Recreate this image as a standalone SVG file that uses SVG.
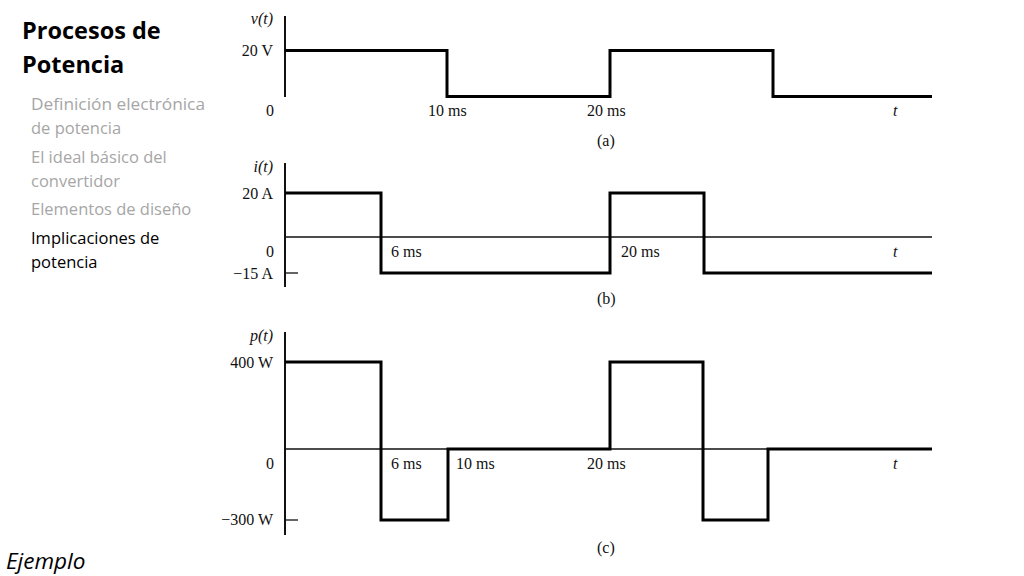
<svg xmlns="http://www.w3.org/2000/svg" width="1024" height="576" viewBox="0 0 1024 576">
<style>
.title{font-family:"Open Sans","Noto Sans",sans-serif;font-weight:bold;font-size:23.5px;fill:#000}
.item{font-family:"Open Sans","Noto Sans",sans-serif;font-size:16.5px;fill:#a6a6a6}
.cur{fill:#000}
.lbl{font-family:"Liberation Serif","Times New Roman",serif;font-size:16px;fill:#111}
.it{font-style:italic}
.ax{stroke:#111;stroke-width:2;fill:none}
.zero{stroke:#111;stroke-width:1.3;fill:none}
.wave{stroke:#000;stroke-width:3;fill:none;stroke-linejoin:miter}
.r{text-anchor:end}
</style>
<rect width="1024" height="576" fill="#fff"/>
<g id="sidebar">
<text class="title" x="22" y="39">Procesos de</text>
<text class="title" x="22" y="73">Potencia</text>
<text class="item" x="31" y="110" textLength="174" lengthAdjust="spacingAndGlyphs">Definición electrónica</text>
<text class="item" x="31" y="134">de potencia</text>
<text class="item" x="31" y="163">El ideal básico del</text>
<text class="item" x="31" y="187">convertidor</text>
<text class="item" x="31" y="215">Elementos de diseño</text>
<text class="item cur" x="31" y="244">Implicaciones de</text>
<text class="item cur" x="31" y="268">potencia</text>
</g>
<g id="plot-a">
<path class="ax" d="M285 16V97"/>
<path class="wave" d="M285 50.5H447V96.5H610V50.5H773V96.5H932"/>
<text class="lbl r it" x="273" y="24">v(t)</text>
<text class="lbl r" x="273" y="56">20 V</text>
<text class="lbl r" x="274" y="116">0</text>
<text class="lbl" x="428" y="116">10 ms</text>
<text class="lbl" x="587" y="116">20 ms</text>
<text class="lbl it" x="893" y="116">t</text>
<text class="lbl" x="597" y="146">(a)</text>
</g>
<g id="plot-b">
<path class="ax" d="M285 163V287"/>
<path class="zero" d="M285 237H932"/>
<path class="zero" d="M285 273H298"/>
<path class="wave" d="M285 193H381V273H610V193H704V273H932"/>
<text class="lbl r it" x="273" y="172">i(t)</text>
<text class="lbl r" x="273" y="199">20 A</text>
<text class="lbl r" x="274" y="257">0</text>
<text class="lbl" x="391" y="257">6 ms</text>
<text class="lbl" x="621" y="257">20 ms</text>
<text class="lbl it" x="893" y="257">t</text>
<text class="lbl r" x="273" y="279">−15 A</text>
<text class="lbl" x="597" y="304">(b)</text>
</g>
<g id="plot-c">
<path class="ax" d="M285 332V535"/>
<path class="zero" d="M285 449H932"/>
<path class="zero" d="M285 520H298"/>
<path class="wave" d="M285 362H381V520H448V449H610V362H703V520H768V449H932"/>
<text class="lbl r it" x="273" y="341">p(t)</text>
<text class="lbl r" x="273" y="368">400 W</text>
<text class="lbl r" x="274" y="469">0</text>
<text class="lbl" x="391" y="469">6 ms</text>
<text class="lbl" x="456" y="469">10 ms</text>
<text class="lbl" x="587" y="469">20 ms</text>
<text class="lbl it" x="893" y="469">t</text>
<text class="lbl r" x="273" y="525">−300 W</text>
<text class="lbl" x="597" y="553">(c)</text>
</g>
<text x="6" y="569" font-family="'Open Sans','Noto Sans',sans-serif" font-style="italic" font-size="22.5" fill="#000">Ejemplo</text>
</svg>
